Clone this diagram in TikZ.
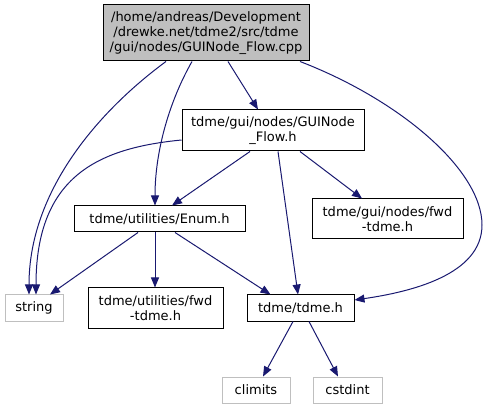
\documentclass[tikz,border=0pt]{standalone}
\usepackage{fontspec}
\setmainfont{DejaVu Sans}
\usetikzlibrary{arrows.meta}
\definecolor{gray75}{HTML}{BFBFBF}
\definecolor{edgeblue}{HTML}{191970}

\begin{document}
\begin{tikzpicture}[x=1pt, y=-1pt,
    file/.style={draw, rectangle, line width=1pt, inner sep=0pt, align=center, font=\fontsize{13}{15}\selectfont},
    sysfile/.style={file, draw=gray75},
    dep/.style={draw=edgeblue, line width=1pt, -{Triangle[length=10pt, width=8pt]}}]
    \useasboundingbox (0,0) rectangle (488,409);
    % files
    \node[file, fill=gray75, minimum width=206pt, minimum height=56pt] (cpp) at (206,33) {/home/andreas/Development\\/drewke.net/tdme2/src/tdme\\/gui/nodes/GUINode\_Flow.cpp};
    \node[file, minimum width=182pt, minimum height=41pt] (flowh) at (273,130.5) {tdme/gui/nodes/GUINode\\\_Flow.h};
    \node[file, minimum width=171pt, minimum height=26pt] (enumh) at (159.5,219) {tdme/utilities/Enum.h};
    \node[file, minimum width=151pt, minimum height=40pt] (guifwd) at (387.5,219) {tdme/gui/nodes/fwd\\-tdme.h};
    \node[sysfile, minimum width=58pt, minimum height=26pt] (string) at (34,308) {string};
    \node[file, minimum width=135pt, minimum height=40pt] (utilfwd) at (155.5,308) {tdme/utilities/fwd\\-tdme.h};
    \node[file, minimum width=107pt, minimum height=26pt] (tdmeh) at (300.5,308) {tdme/tdme.h};
    \node[sysfile, minimum width=68pt, minimum height=26pt] (climits) at (256,390) {climits};
    \node[sysfile, minimum width=69pt, minimum height=26pt] (cstdint) at (347.5,390) {cstdint};
    % includes
    \draw[dep] ([xshift=-40pt]cpp.south) .. controls (100,110) and (29,190) .. ([xshift=-5pt]string.north);
    \draw[dep] ([xshift=-14pt]cpp.south) .. controls (170,100) and (155,150) .. ([xshift=-4.5pt]enumh.north);
    \draw[dep] ([xshift=22pt]cpp.south) -- ([xshift=-15pt]flowh.north);
    \draw[dep] ([xshift=94pt]cpp.south) .. controls (400,100) and (482,170) .. (482,225)
        .. controls (482,275) and (410,292) .. ([yshift=8pt]tdmeh.east);
    \draw[dep] ([yshift=-9.5pt]flowh.west) .. controls (100,148) and (36,175) .. ([xshift=2pt]string.north);
    \draw[dep] ([xshift=-23pt]flowh.south) -- ([xshift=12.5pt]enumh.north);
    \draw[dep] ([xshift=5pt]flowh.south) -- ([xshift=-2.5pt]tdmeh.north);
    \draw[dep] ([xshift=27pt]flowh.south) -- ([xshift=-25.5pt]guifwd.north);
    \draw[dep] ([xshift=-21.5pt]enumh.south) -- ([xshift=16pt]string.north);
    \draw[dep] ([xshift=-4.5pt]enumh.south) -- ([xshift=-0.5pt]utilfwd.north);
    \draw[dep] ([xshift=15.5pt]enumh.south) -- ([xshift=-30pt]tdmeh.north);
    \draw[dep] ([xshift=-7.5pt]tdmeh.south) -- ([xshift=7pt]climits.north);
    \draw[dep] ([xshift=8.5pt]tdmeh.south) -- ([xshift=-9.5pt]cstdint.north);
\end{tikzpicture}
\end{document}
